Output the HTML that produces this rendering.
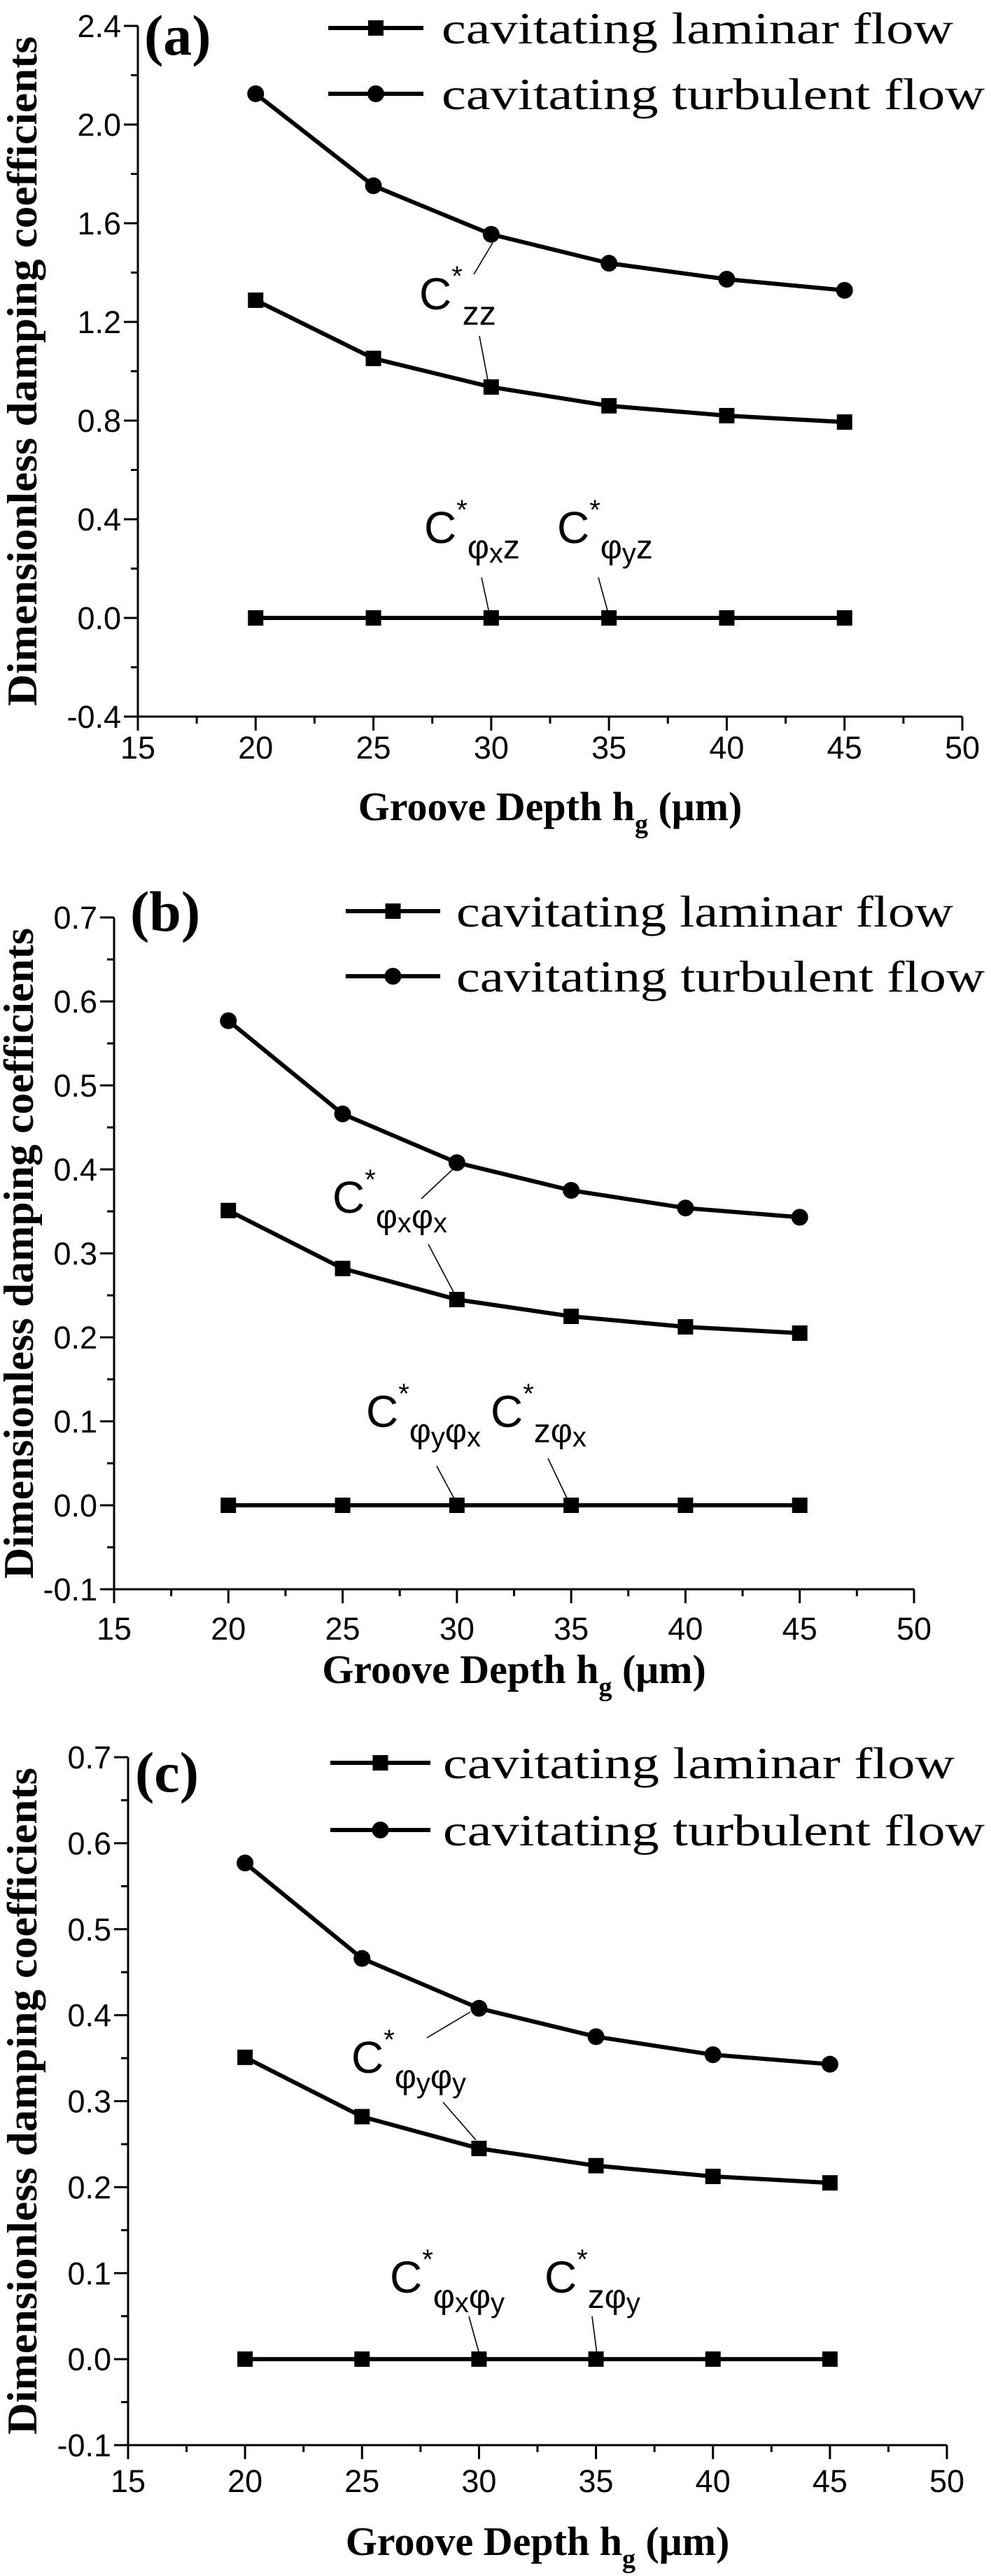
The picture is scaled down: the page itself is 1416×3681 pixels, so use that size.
<!DOCTYPE html>
<html><head><meta charset="utf-8"><style>
html,body{margin:0;padding:0;background:#fff;}
svg{display:block;}
.tick{font-family:"Liberation Sans",Arial,sans-serif;font-size:45px;fill:#000;}
.ann{font-family:"Liberation Sans",Arial,sans-serif;fill:#000;}
.serif{font-family:"Liberation Serif","Times New Roman",serif;fill:#000;}
</style></head><body>
<svg id="fig" width="1416" height="3681" viewBox="0 0 1416 3681" xmlns="http://www.w3.org/2000/svg"></svg>
<script>
const xCategories = [20, 25, 30, 35, 40, 45];
const xTicks = [15, 20, 25, 30, 35, 40, 45, 50];
const aLaminar = [1.288, 1.052, 0.936, 0.860, 0.820, 0.794];
const aTurbulent = [2.125, 1.752, 1.555, 1.438, 1.373, 1.328];
const aZero = [0, 0, 0, 0, 0, 0];
const aYTicks = [-0.4, 0.0, 0.4, 0.8, 1.2, 1.6, 2.0, 2.4];
const bLaminar = [0.351, 0.282, 0.245, 0.225, 0.2125, 0.205];
const bTurbulent = [0.577, 0.466, 0.408, 0.375, 0.354, 0.343];
const bZero = [0, 0, 0, 0, 0, 0];
const bYTicks = [-0.1, 0.0, 0.1, 0.2, 0.3, 0.4, 0.5, 0.6, 0.7];
const cLaminar = [0.351, 0.282, 0.245, 0.225, 0.2125, 0.205];
const cTurbulent = [0.577, 0.466, 0.408, 0.375, 0.354, 0.343];
const cZero = [0, 0, 0, 0, 0, 0];
const cYTicks = [-0.1, 0.0, 0.1, 0.2, 0.3, 0.4, 0.5, 0.6, 0.7];

const NS = "http://www.w3.org/2000/svg";
const svg = document.getElementById('fig');
function mk(tag, attrs, parent) {
  const e = document.createElementNS(NS, tag);
  for (const k in attrs) e.setAttribute(k, attrs[k]);
  (parent || svg).appendChild(e);
  return e;
}

function panel(p) {
  const g = mk('g', {});
  
  
  const xs = v => p.L + (v - 15) / 35 * (p.R - p.L);
  const ys = v => p.B - (v - p.ymin) / (p.ymax - p.ymin) * (p.B - p.T);
  // axes
  const ax = mk('path', {d: `M${p.L} ${p.T} V${p.B} H${p.R}`, fill: 'none', stroke: '#000', 'stroke-width': 3}, g);
  
  
  // x ticks
  for (let i = 0; i < xTicks.length; i++) {
    const x = xs(xTicks[i]);
    mk('line', {x1: x, y1: p.B, x2: x, y2: p.B + 20, stroke: '#000', 'stroke-width': 3}, g);
    if (i < xTicks.length - 1) {
      const xm = xs(xTicks[i] + 2.5);
      mk('line', {x1: xm, y1: p.B, x2: xm, y2: p.B + 10, stroke: '#000', 'stroke-width': 3}, g);
    }
    const t = mk('text', {x: x, y: p.tickBase, 'text-anchor': 'middle', class: 'tick'}, g);
    
    
    t.textContent = xTicks[i];
  }
  // y ticks
  const yt = p.yTicks;
  for (let i = 0; i < yt.length; i++) {
    const y = ys(yt[i]);
    mk('line', {x1: p.L - 20, y1: y, x2: p.L, y2: y, stroke: '#000', 'stroke-width': 3}, g);
    if (i < yt.length - 1) {
      const ym = ys((yt[i] + yt[i + 1]) / 2);
      mk('line', {x1: p.L - 10, y1: ym, x2: p.L, y2: ym, stroke: '#000', 'stroke-width': 3}, g);
    }
    const t = mk('text', {x: p.L - 24, y: y + 16, 'text-anchor': 'end', class: 'tick'}, g);
    
    
    t.textContent = yt[i].toFixed(1);
  }
  // series
  const series = [[p.lam, 'sq', 'laminar'], [p.tur, 'ci', 'turbulent'], [p.zero, 'sq', 'zero-coupling']];
  series.forEach(s => {
    const pts = xCategories.map((c, i) => xs(c) + ',' + ys(s[0][i])).join(' ');
    const pl = mk('polyline', {points: pts, fill: 'none', stroke: '#000', 'stroke-width': 6, 'stroke-linejoin': 'round'}, g);
    
    
    xCategories.forEach((c, i) => {
      let m;
      if (s[1] === 'sq') m = mk('rect', {x: xs(c) - 11, y: ys(s[0][i]) - 11, width: 22, height: 22, fill: '#000'}, g);
      else m = mk('circle', {cx: xs(c), cy: ys(s[0][i]), r: 12, fill: '#000'}, g);
      
      
    });
  });
  // legend
  const leg = [['cavitating laminar flow', 'sq', p.legY[0], p.legLen[0]], ['cavitating turbulent flow', 'ci', p.legY[1], p.legLen[1]]];
  leg.forEach(l => {
    const lg = mk('g', {}, g);
    
    
    mk('line', {x1: p.legX[0], y1: l[2], x2: p.legX[1], y2: l[2], stroke: '#000', 'stroke-width': 6}, lg);
    const mx = (p.legX[0] + p.legX[1]) / 2;
    if (l[1] === 'sq') mk('rect', {x: mx - 11, y: l[2] - 11, width: 22, height: 22, fill: '#000'}, lg);
    else mk('circle', {cx: mx, cy: l[2], r: 12, fill: '#000'}, lg);
    const t = mk('text', {x: p.legX[2], y: l[2] + 22, class: 'serif', 'font-size': 64, textLength: l[3], lengthAdjust: 'spacingAndGlyphs'}, lg);
    t.textContent = l[0];
  });
  // panel label
  const pl = mk('text', {x: p.lab[0], y: p.lab[1], class: 'serif', 'font-size': 82, 'font-weight': 'bold'}, g);
  
  
  pl.textContent = '(' + p.id + ')';
  // x title
  const xt = mk('text', {x: (p.L + p.R) / 2, y: p.titleBase, 'text-anchor': 'middle', class: 'serif', 'font-size': 58, 'font-weight': 'bold'}, g);
  
  
  xt.innerHTML = 'Groove Depth h<tspan font-size="38" dy="18">g</tspan><tspan dy="-18"> (μm)</tspan>';
  // y title
  const cy = (p.T + p.B) / 2;
  const ytl = mk('text', {x: 0, y: 0, 'text-anchor': 'middle', class: 'serif', 'font-size': 60, 'font-weight': 'bold', transform: `translate(${p.yTitleX + 20},${cy}) rotate(-90)`, textLength: p.B - p.T - 30, lengthAdjust: 'spacingAndGlyphs'}, g);
  
  
  ytl.textContent = 'Dimensionless damping coefficients';
  // annotations
  p.anns.forEach(a => {
    const t = mk('text', {x: a[0], y: a[1], class: 'ann', 'font-size': 64}, g);
    
    
    t.innerHTML = 'C<tspan font-size="40" dy="-34">*</tspan><tspan font-size="48" dy="56">' + a[2] + '</tspan>';
  });
  p.leaders.forEach(l => {
    const ln = mk('line', {x1: l[0], y1: l[1], x2: l[2], y2: l[3], stroke: '#000', 'stroke-width': 1.6}, g);
    
    
  });
}

panel({id: 'a', L: 197, R: 1375, T: 37, B: 1024, ymin: -0.4, ymax: 2.4, yTicks: aYTicks,
  lam: aLaminar, tur: aTurbulent, zero: aZero, tickBase: 1084, titleBase: 1172, yTitleX: 32,
  legX: [469, 605, 631], legY: [40, 134], legLen: [731, 776], lab: [206, 78],
  anns: [[599, 442, 'zz'], [606, 776, 'φ<tspan font-size="40" dy="6">x</tspan><tspan dy="-6">z</tspan>'], [796, 776, 'φ<tspan font-size="40" dy="6">y</tspan><tspan dy="-6">z</tspan>']],
  leaders: [[677, 392, 704, 347], [685, 480, 697, 543], [688, 825, 699, 876], [855, 825, 869, 876]]});

panel({id: 'b', L: 163, R: 1306, T: 1311, B: 2271, ymin: -0.1, ymax: 0.7, yTicks: bYTicks,
  lam: bLaminar, tur: bTurbulent, zero: bZero, tickBase: 2343, titleBase: 2405, yTitleX: 27,
  legX: [494, 629, 652], legY: [1302, 1395], legLen: [710, 755], lab: [186, 1330],
  anns: [[475, 1733, 'φ<tspan font-size="40" dy="6">x</tspan><tspan dy="-6">φ</tspan><tspan font-size="40" dy="6">x</tspan>'],
         [523, 2039, 'φ<tspan font-size="40" dy="6">y</tspan><tspan dy="-6">φ</tspan><tspan font-size="40" dy="6">x</tspan>'],
         [701, 2039, 'zφ<tspan font-size="40" dy="6">x</tspan>']],
  leaders: [[602, 1713, 650, 1668], [612, 1778, 650, 1850], [624, 2095, 653, 2149], [783, 2084, 814, 2149]]});

panel({id: 'c', L: 183, R: 1353, T: 2511, B: 3494, ymin: -0.1, ymax: 0.7, yTicks: cYTicks,
  lam: cLaminar, tur: cTurbulent, zero: cZero, tickBase: 3561, titleBase: 3651, yTitleX: 32,
  legX: [472, 615, 633], legY: [2519, 2615], legLen: [731, 774], lab: [193, 2560],
  anns: [[502, 2962, 'φ<tspan font-size="40" dy="6">y</tspan><tspan dy="-6">φ</tspan><tspan font-size="40" dy="6">y</tspan>'],
         [557, 3276, 'φ<tspan font-size="40" dy="6">x</tspan><tspan dy="-6">φ</tspan><tspan font-size="40" dy="6">y</tspan>'],
         [778, 3276, 'zφ<tspan font-size="40" dy="6">y</tspan>']],
  leaders: [[610, 2912, 672, 2875], [633, 3004, 680, 3058], [670, 3310, 685, 3364], [846, 3310, 853, 3364]]});
</script>
</body></html>
